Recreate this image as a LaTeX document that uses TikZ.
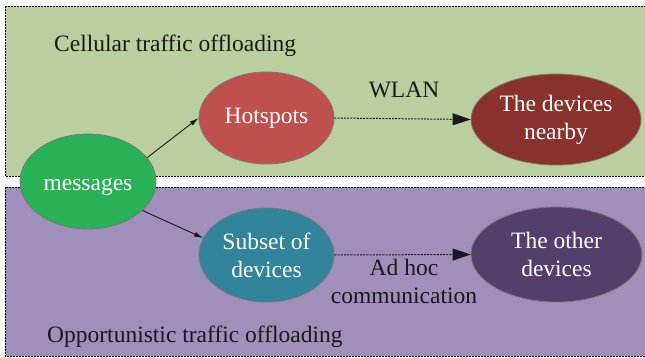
\documentclass[tikz,border=0pt]{standalone}
\usepackage{fontspec}
\setmainfont[Ligatures=NoCommon]{Liberation Serif}
\usetikzlibrary{shapes.geometric,arrows.meta}

\definecolor{cellfill}{RGB}{187,206,159}
\definecolor{oppfill}{RGB}{160,143,186}
\definecolor{msgfill}{RGB}{40,178,85}
\definecolor{hotfill}{RGB}{192,80,77}
\definecolor{nearfill}{RGB}{137,49,44}
\definecolor{subfill}{RGB}{49,132,155}
\definecolor{otherfill}{RGB}{83,63,107}
\definecolor{rimgray}{RGB}{120,120,120}

\tikzset{
  region/.style={draw=black, line width=0.8pt, dash pattern=on 2pt off 1pt},
  blob/.style={ellipse, draw=rimgray, line width=0.8pt, inner sep=0pt,
               text=white, align=center, font=\fontsize{23.5}{28}\selectfont},
  caption/.style={font=\fontsize{23.5}{28}\selectfont, text=black!90, inner sep=0pt},
  feed/.style={-{Latex[length=9pt,width=5pt]}, line width=0.9pt, black!90},
  link/.style={-{Triangle[length=18pt,width=12pt]}, line width=1pt,
               dash pattern=on 2pt off 1.2pt, black!90}
}

\begin{document}
\begin{tikzpicture}[x=1pt, y=-1pt]
  \useasboundingbox (0,0) rectangle (645,358);

  % the two offloading regions
  \path[region, fill=cellfill] (5,6) rectangle (652,176);
  \path[region, fill=oppfill] (5,187) rectangle (652,356);

  \node[caption, anchor=base west] (celltitle) at (54,52) {Cellular traffic offloading};
  \node[caption, anchor=base west] (opptitle) at (47,342) {Opportunistic traffic offloading};

  % entities
  \node[blob, fill=msgfill, minimum width=136pt, minimum height=95pt,
        text height=19pt, text depth=0pt] (msg) at (88,181.5) {messages};
  \node[blob, fill=hotfill, minimum width=135pt, minimum height=92pt] (hot) at (266.5,118) {Hotspots};
  \node[blob, fill=nearfill, minimum width=170pt, minimum height=91pt] (near) at (556,119.5) {The devices\\nearby};
  \node[blob, fill=subfill, minimum width=135pt, minimum height=94pt] (sub) at (266.5,255) {Subset of\\devices};
  \node[blob, fill=otherfill, minimum width=171pt, minimum height=95pt] (other) at (556.5,254.5) {The other\\devices};

  % connectors
  \draw[feed] (msg.22) -- (hot.west);
  \draw[feed] (msg.-28) -- (sub.165);
  \draw[link] (hot.east) -- (near.west);
  \draw[link] (sub.east) -- (other.west);

  \node[caption, anchor=base] (wlan) at (404,98) {WLAN};
  \node[caption, anchor=base, align=center] (adhoc) at (404,303) {Ad hoc\\communication};
\end{tikzpicture}
\end{document}
